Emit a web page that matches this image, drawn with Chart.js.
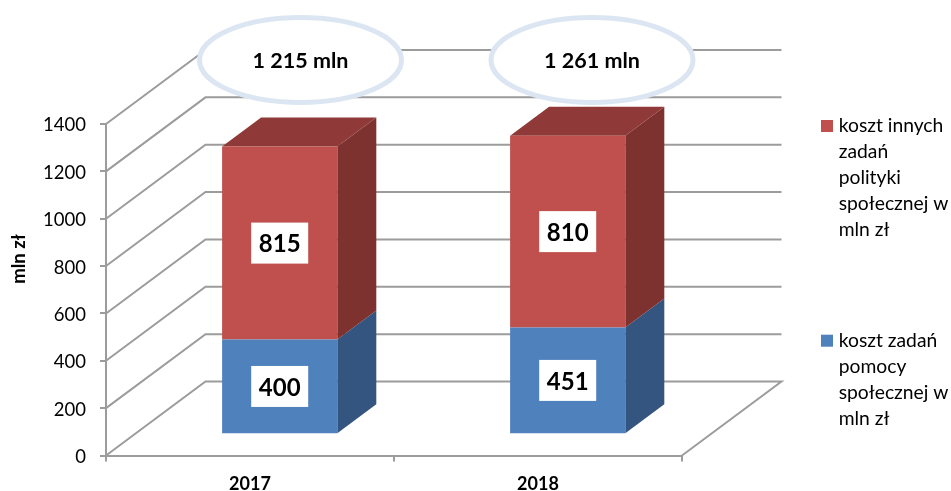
<!DOCTYPE html>
<html lang="pl">
<head>
<meta charset="utf-8">
<style>html,body{margin:0;padding:0;background:#fff}canvas{display:block}</style>
<script src="https://cdn.jsdelivr.net/npm/chart.js@4/dist/chart.umd.js"></script>
</head>
<body>
<canvas id="c" width="951" height="491"></canvas>
<script>
const categories = ['2017', '2018'];
const pomocSpoleczna = [400, 451];
const innePolityki = [815, 810];
const totalLabels = ['1 215 mln', '1 261 mln'];
const seriesNames = ['koszt zadań pomocy społecznej w mln zł', 'koszt innych zadań polityki społecznej w mln zł'];
const legendLinesBlue = ['koszt zadań', 'pomocy', 'społecznej w', 'mln zł'];
const legendLinesRed = ['koszt innych', 'zadań', 'polityki', 'społecznej w', 'mln zł'];
const yAxisTitle = 'mln zł';

const FONT = 'Lato, Carlito, sans-serif';
const BLUE = '#4F81BD', RED = '#C0504D';
const BLUE_SIDE = '#34557F', RED_SIDE = '#7D3230', RED_TOP = '#8F3A38';
const GRID = '#9C9C9C';
const WALL = {dx: 99.5, dy: -74};
const BAR_SHIFT = {dx: 29.7, dy: -21.2};
const BAR_DEPTH = {dx: 39, dy: -29};
const ELLIPSE_SHIFT = [50.5, 54];

function poly(ctx, pts, color) {
  ctx.beginPath();
  pts.forEach((p, i) => i ? ctx.lineTo(p[0], p[1]) : ctx.moveTo(p[0], p[1]));
  ctx.closePath();
  ctx.fillStyle = color;
  ctx.fill();
}

const scene3d = {
  id: 'scene3d',
  beforeDatasetsDraw(chart) {
    const {ctx, chartArea: a, scales: {y}} = chart;
    ctx.save();
    ctx.strokeStyle = GRID;
    ctx.lineWidth = 2;
    y.ticks.forEach(t => {
      const py = y.getPixelForValue(t.value);
      ctx.beginPath();
      ctx.moveTo(a.left, py);
      ctx.lineTo(a.left + WALL.dx, py + WALL.dy);
      ctx.lineTo(a.right + WALL.dx, py + WALL.dy);
      if (t.value === 0) ctx.lineTo(a.right, py);
      ctx.stroke();
    });
    const faces = [[0, BLUE_SIDE], [1, RED_SIDE]];
    faces.forEach(([ds, sideColor]) => {
      chart.getDatasetMeta(ds).data.forEach(b => {
        const r = b.x + b.width / 2 + BAR_SHIFT.dx;
        const l = b.x - b.width / 2 + BAR_SHIFT.dx;
        const top = b.y + BAR_SHIFT.dy, bot = b.base + BAR_SHIFT.dy;
        poly(ctx, [[r, top], [r + BAR_DEPTH.dx, top + BAR_DEPTH.dy], [r + BAR_DEPTH.dx, bot + BAR_DEPTH.dy], [r, bot]], sideColor);
        if (ds === 1) poly(ctx, [[l, top], [l + BAR_DEPTH.dx, top + BAR_DEPTH.dy], [r + BAR_DEPTH.dx, top + BAR_DEPTH.dy], [r, top]], RED_TOP);
      });
    });
    ctx.restore();
  },
  beforeDatasetDraw(chart) {
    chart.ctx.save();
    chart.ctx.translate(BAR_SHIFT.dx, BAR_SHIFT.dy);
  },
  afterDatasetDraw(chart) {
    chart.ctx.restore();
  },
  afterDatasetsDraw(chart) {
    const {ctx, scales: {x}} = chart;
    ctx.save();
    ctx.textAlign = 'center';
    ctx.textBaseline = 'middle';
    // value labels
    [[0, pomocSpoleczna], [1, innePolityki]].forEach(([ds, vals]) => {
      chart.getDatasetMeta(ds).data.forEach((b, i) => {
        const cx = b.x + BAR_SHIFT.dx, cy = (b.y + b.base) / 2 + BAR_SHIFT.dy;
        ctx.fillStyle = '#fff';
        ctx.fillRect(cx - 28.5, cy - 20.5, 57, 41);
        ctx.fillStyle = '#000';
        ctx.font = 'bold 24px ' + FONT;
        ctx.fillText(String(vals[i]), cx, cy + 1.5);
      });
    });
    // total ellipses
    totalLabels.forEach((label, i) => {
      const cx = x.getPixelForValue(i) + ELLIPSE_SHIFT[i];
      ctx.beginPath();
      ctx.ellipse(cx, 60, 101, 42.5, 0, 0, Math.PI * 2);
      ctx.fillStyle = '#fff';
      ctx.fill();
      ctx.lineWidth = 5;
      ctx.strokeStyle = '#DCE6F2';
      ctx.stroke();
      ctx.fillStyle = '#000';
      ctx.font = 'bold 21.5px ' + FONT;
      ctx.fillText(label, cx, 61);
    });
    // axis title
    ctx.save();
    ctx.translate(19.5, 259);
    ctx.rotate(-Math.PI / 2);
    ctx.font = 'bold 18.5px ' + FONT;
    ctx.fillStyle = '#000';
    ctx.fillText(yAxisTitle, 0, 0);
    ctx.restore();
    // legend
    ctx.textAlign = 'left';
    ctx.font = '19.3px ' + FONT;
    [[legendLinesRed, RED, 125.8], [legendLinesBlue, BLUE, 340.5]].forEach(([lines, color, y0]) => {
      ctx.fillStyle = color;
      ctx.fillRect(821, y0 - 5.8, 12, 12);
      ctx.fillStyle = '#000';
      lines.forEach((ln, i) => ctx.fillText(ln, 838.7, y0 + i * 26.1));
    });
    ctx.restore();
  }
};

new Chart(document.getElementById('c'), {
  type: 'bar',
  plugins: [scene3d],
  data: {
    labels: categories,
    datasets: [
      {label: seriesNames[0], data: pomocSpoleczna, backgroundColor: BLUE, clip: false},
      {label: seriesNames[1], data: innePolityki, backgroundColor: RED, clip: false}
    ]
  },
  options: {
    responsive: false,
    animation: false,
    layout: {padding: {left: 0, top: 124, right: 269, bottom: 0}},
    plugins: {legend: {display: false}, title: {display: false}, tooltip: {enabled: false}},
    datasets: {bar: {barPercentage: 0.4, categoryPercentage: 1}},
    scales: {
      x: {
        stacked: true,
        afterFit(s) { s.height = 35.5; },
        border: {display: true, color: GRID, width: 2},
        grid: {drawOnChartArea: false, drawTicks: true, tickLength: 6, color: GRID, lineWidth: 2},
        ticks: {color: '#000', font: {family: FONT, size: 18, weight: 'bold'}, padding: 12, maxRotation: 0}
      },
      y: {
        stacked: true,
        min: 0,
        max: 1400,
        afterFit(s) { s.width = 106; },
        border: {display: true, color: GRID, width: 2},
        grid: {drawOnChartArea: false, drawTicks: true, tickLength: 6, color: GRID, lineWidth: 2},
        ticks: {stepSize: 200, color: '#000', font: {family: FONT, size: 18.5}, padding: 14, labelOffset: 1.5, callback: v => String(v)}
      }
    }
  }
});
</script>
</body>
</html>
